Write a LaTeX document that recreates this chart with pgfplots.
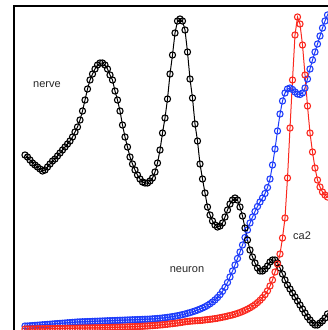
\documentclass[border=0pt]{standalone}
\usepackage{pgfplots}
\pgfplotsset{compat=1.18}
\usepackage{pgfplotstable}
\usepackage{fontspec}
\setmainfont{Liberation Sans}
\definecolor{mblue}{RGB}{30,60,250}
\definecolor{mred}{RGB}{250,40,30}
\pgfplotstableread{
x b u r
25 155 326 329
27.5 157 326 329
30 160 325.8 329
32.5 163 325.6 328.9
35 165 325.4 328.9
37.5 167 325.2 328.8
40 169 325 328.8
42.5 171 324.8 328.8
45 170 324.6 328.7
47.5 167 324.4 328.7
50 164 324.2 328.7
52.5 161 324 328.6
55 159 323.8 328.6
57.5 156 323.6 328.5
60 153 323.4 328.5
62.5 150 323.2 328.5
65 147 323 328.4
67.5 144 322.8 328.4
70 141 322.6 328.3
72.5 137 322.4 328.3
75 132 322.2 328.3
77.5 127 322 328.2
80 120 321.9 328.1
82.5 111 321.8 328.1
85 100 321.7 328
87.5 89 321.6 328
90 80 321.5 327.9
92.5 74 321.4 327.9
95 69 321.3 327.8
97.5 65 321.2 327.8
100 63 321.1 327.7
102.5 63 321 327.7
105 65 320.9 327.6
107.5 69 320.8 327.5
110 75 320.7 327.5
112.5 80 320.6 327.4
115 91 320.5 327.3
117.5 100 320.4 327.3
120 111 320.3 327.2
122.5 125 320.2 327.1
125 137 320.1 327
127.5 147 320 326.9
130 157 319.9 326.8
132.5 164 319.8 326.7
135 170 319.7 326.6
137.5 175 319.6 326.5
140 179 319.5 326.4
142.5 182 319.4 326.3
145 183 319.3 326.1
147.5 183 319.2 326
150 181 319.1 325.8
152.5 178 318.9 325.6
155 172 318.7 325.4
157.5 163 318.5 325.2
160 150 318.3 325
162.5 133 318 324.8
165 118 317.7 324.5
167.5 99 317.4 324.2
170 74 317 323.9
172.5 55 316.6 323.6
175 33 316.2 323.3
177.5 21 315.7 323
180 19 315.2 322.6
182.5 21 314.6 322.2
185 30 314 321.8
187.5 52 313.3 321.5
190 79 312.6 321.2
192.5 98 311.8 321
195 124 311 320.8
197.5 141 310.1 320.6
200 164 309.1 320.5
202.5 179 308 320.2
205 193 306.8 319.9
207.5 207 305.4 319.6
210 215 303.8 319.3
212.5 221 302 319
215 225 299.9 318.6
217.5 227 297.5 318.2
220 226 294.7 317.7
222.5 223 291.3 317.2
225 217 287.3 316.7
227.5 210 282.5 316.1
230 204 277 315.5
232.5 200 271 314.9
235 198 265 314.2
237.5 200 258.5 313.4
240 207 252 312.5
242.5 216 245 311.5
245 228 237.5 310.4
247.5 240 230 309.2
250 250 223 307.8
252.5 257 217 306.3
255 263 211.5 304.6
257.5 268 206.5 302.6
260 271 202 300.3
262.5 271 198 297.7
265 269 193.5 294.6
267.5 266 187.5 290.8
270 262 179 286
272.5 260 165 280
275 260 149 272
277.5 263 131 264
280 268 114 254
282.5 274 101 238
285 280 93 218
287.5 285 89 178
290 289 88 128
292.5 293 89.5 80
295 297 92 35
297.5 301 94 17
300 305 94.5 24
302.5 309 93 45
305 313 88 75
307.5 317 79 106
310 320 69 133
312.5 323 60 152
315 325 52 168
317.5 325 44 180
320 323 36 187
322.5 321 28 192
325 318 21 195
327.5 314 15 197
330 310 10 198
}\data
\begin{document}
\begin{tikzpicture}
\path[use as bounding box] (0,0) rectangle (328pt,330pt);
\begin{axis}[at={(0,0)}, anchor=south west, scale only axis,
  width=328pt, height=330pt, xmin=0, xmax=328, ymin=0, ymax=330,
  y dir=reverse, hide axis, clip=true]
\addplot[mblue, line width=1pt, mark=o, mark size=3.1pt, mark options={line width=1.1pt}] table[x=x,y=u]{\data};
\addplot[black, line width=1pt, mark=o, mark size=3.1pt, mark options={line width=1.1pt}] table[x=x,y=b]{\data};
\addplot[mred, line width=1pt, mark=o, mark size=3.1pt, mark options={line width=1.1pt}] table[x=x,y=r]{\data};
\draw[line width=2pt] (axis cs:14,335) -- (axis cs:14,5.5) -- (axis cs:335,5.5);
\node[font=\fontsize{11}{13}\selectfont, text=black!85] at (axis cs:47,85) {nerve};
\node[font=\fontsize{11}{13}\selectfont, text=black!85] at (axis cs:187,270) {neuron};
\node[font=\fontsize{11}{13}\selectfont, text=black!85] at (axis cs:302,236) {ca2};
\end{axis}
\end{tikzpicture}
\end{document}
